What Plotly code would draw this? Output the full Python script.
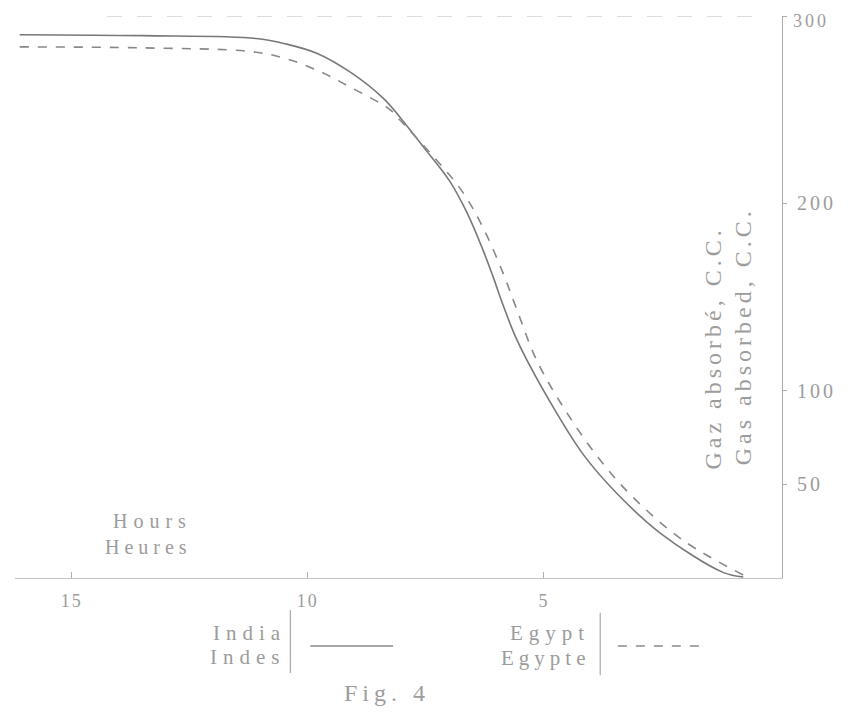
import plotly.graph_objects as go

# ---- data ----
india_hours = [16.1, 13.5, 11.1, 10.45, 9.8, 9.1, 8.4, 8.05, 7.55, 7.0, 6.63, 6.29, 6.08, 5.87, 5.57, 4.87, 4.17, 3.45, 2.54, 1.21, 0.78]
india_gas = [290, 289.5, 288, 285, 280, 270, 256, 246, 230, 212, 195, 175, 161, 146, 127, 94, 66, 45, 24, 3, 0.5]

egypt_hours = [16.1, 13.5, 11.2, 10.5, 9.8, 9.1, 8.26, 8.05, 7.27, 6.72, 6.29, 5.87, 5.57, 5.15, 4.51, 3.81, 3.11, 2.05, 0.78]
egypt_gas = [283.5, 283, 281, 277.5, 271, 262, 250, 244.5, 223, 206, 187, 163, 143, 116, 88, 63, 43, 20, 1.6]

x_ticks = [5, 10, 15]
x_ticklabels = ["5", "10", "15"]
y_ticks = [50, 100, 200, 300]
y_ticklabels = ["50", "100", "200", "300"]

FONT = "Liberation Serif"
TXT = "#9c9c9c"


def spaced(t, px):
    return '<span style="letter-spacing:%dpx">%s</span>' % (px, t)


fig = go.Figure()
fig.add_trace(go.Scatter(x=india_hours, y=india_gas, mode="lines", name="India",
                         line=dict(color="#787878", width=1.6, shape="spline", smoothing=1.0),
                         showlegend=False))
fig.add_trace(go.Scatter(x=egypt_hours, y=egypt_gas, mode="lines", name="Egypt",
                         line=dict(color="#888888", width=1.6, dash="dash", shape="spline", smoothing=1.0),
                         showlegend=False))

# the top tick label is placed as an annotation (slightly lowered) so it is not clipped
axis_ticktext = [spaced(t, 3) for t in y_ticklabels[:-1]] + [""]

fig.update_layout(
    width=855, height=723,
    margin=dict(l=7, r=81, t=8, b=153),
    paper_bgcolor="white", plot_bgcolor="white",
    font=dict(family=FONT, color=TXT, size=15),
    xaxis=dict(range=[16.2, -0.04], tickvals=x_ticks,
               ticktext=[spaced(t, 2) for t in x_ticklabels],
               showgrid=False, zeroline=False, showline=True, linecolor="#c4c4c4", linewidth=1,
               ticks="inside", ticklen=6, tickcolor="#b0b0b0", automargin=False,
               ticklabelstandoff=6, ticklabeloverflow="allow",
               tickfont=dict(family=FONT, color=TXT, size=18)),
    yaxis=dict(range=[0, 300], side="right", tickvals=y_ticks,
               ticktext=axis_ticktext,
               showgrid=False, zeroline=False, showline=True, linecolor="#a8a8a8", linewidth=1,
               ticks="outside", ticklen=4, tickcolor="#b0b0b0", automargin=False,
               ticklabelstandoff=6, ticklabeloverflow="allow",
               tickfont=dict(family=FONT, color=TXT, size=20)),
)

# dashed top line at the 300 level
fig.add_shape(type="line", xref="paper", yref="y", x0=0.12, x1=0.97, y0=y_ticks[-1], y1=y_ticks[-1],
              line=dict(color="#bbbbbb", width=1.2, dash="longdash"))


def note(text, x, y, size=16, xanchor="center", angle=0, spacing=None):
    if spacing:
        text = spaced(text, spacing)
    return dict(text=text, x=x, y=y, xref="paper", yref="paper", xanchor=xanchor,
                yanchor="middle", textangle=angle, showarrow=False,
                font=dict(size=size, color=TXT, family=FONT))


ann = [
    # top y tick label
    dict(text=spaced(y_ticklabels[-1], 3), x=1.0, y=y_ticks[-1], xref="paper", yref="y",
         xanchor="left", yanchor="middle", xshift=9, yshift=-5, showarrow=False,
         font=dict(size=18, color=TXT, family=FONT)),
    # axis title (two languages, rotated)
    note("Gas absorbed, C.C.", 0.949, 0.43, size=24, angle=-90, spacing=4),
    note("Gaz absorbé, C.C.", 0.910, 0.41, size=24, angle=-90, spacing=4),
    # Hours label
    note("Hours", 0.233, 0.101, size=20, xanchor="right", spacing=6),
    note("Heures", 0.233, 0.055, size=20, xanchor="right", spacing=5),
    # legend texts
    note("India", 0.356, -0.098, size=21, xanchor="right", spacing=6),
    note("Indes", 0.356, -0.141, size=21, xanchor="right", spacing=6),
    note("Egypt", 0.752, -0.098, size=21, xanchor="right", spacing=6),
    note("Egypte", 0.752, -0.142, size=21, xanchor="right", spacing=5),
    # figure caption
    note("Fig. 4", 0.485, -0.205, size=24, spacing=5),
]
fig.update_layout(annotations=ann)

# legend bars and keys
fig.add_shape(type="line", xref="paper", yref="paper", x0=0.359, x1=0.359, y0=-0.057, y1=-0.169,
              line=dict(color="#aaaaaa", width=1.2))
fig.add_shape(type="line", xref="paper", yref="paper", x0=0.385, x1=0.493, y0=-0.121, y1=-0.121,
              line=dict(color="#8a8a8a", width=1.6))
fig.add_shape(type="line", xref="paper", yref="paper", x0=0.763, x1=0.763, y0=-0.062, y1=-0.173,
              line=dict(color="#aaaaaa", width=1.2))
fig.add_shape(type="line", xref="paper", yref="paper", x0=0.786, x1=0.900, y0=-0.121, y1=-0.121,
              line=dict(color="#8a8a8a", width=1.6, dash="dash"))

fig.write_html("out.html")
